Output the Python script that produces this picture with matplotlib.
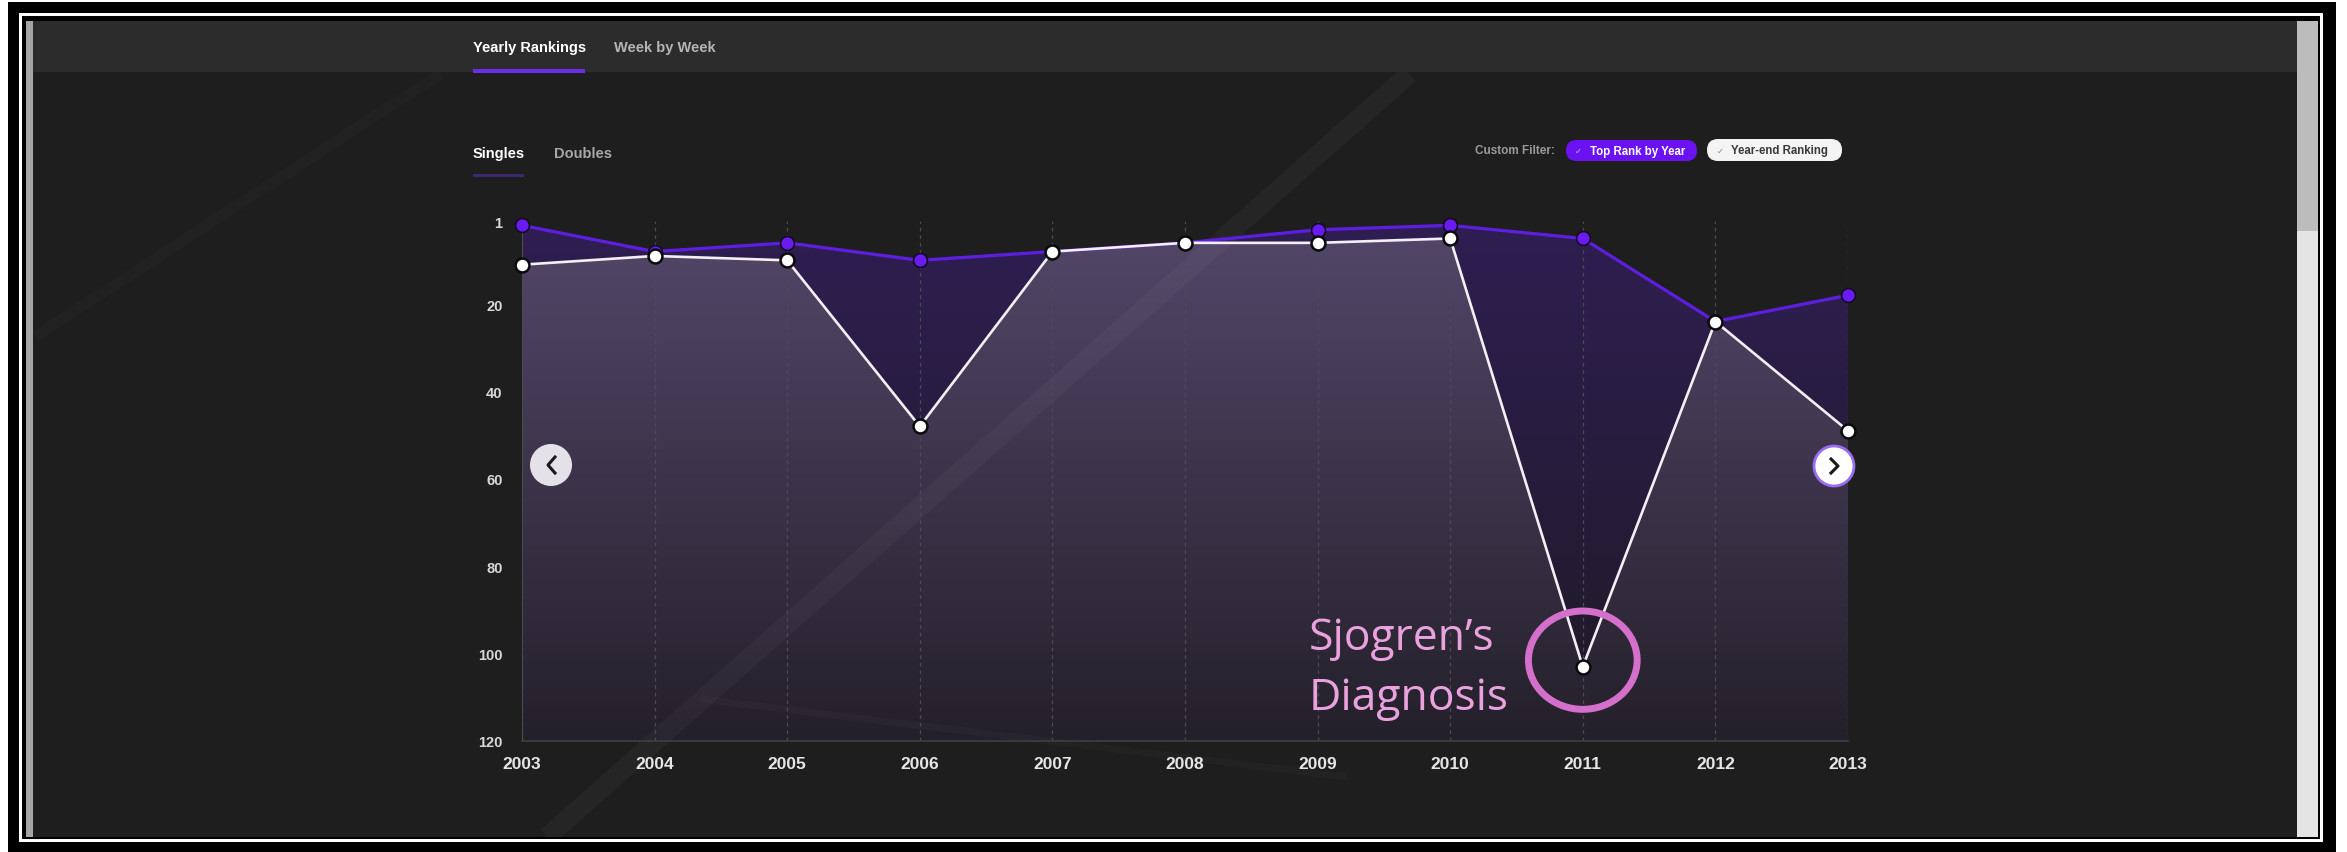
import numpy as np
import matplotlib.pyplot as plt
from matplotlib.patches import Rectangle, Circle, Ellipse, FancyBboxPatch
from matplotlib.colors import to_rgb

years = [2003, 2004, 2005, 2006, 2007, 2008, 2009, 2010, 2011, 2012, 2013]
top_rank = [2, 8, 6, 10, 8, 6, 3, 2, 5, 24, 18]
year_end = [11, 9, 10, 48, 8, 6, 6, 5, 103, 24, 49]
rank_ticks = [1, 20, 40, 60, 80, 100, 120]

W, H = 2347, 853
fig = plt.figure(figsize=(W / 100, H / 100), dpi=100)
fig.patch.set_facecolor('white')

# background layer in pixel coordinates (frame, page, tabs)
bg = fig.add_axes([0, 0, 1, 1])
bg.set_xlim(0, W)
bg.set_ylim(H, 0)
bg.axis('off')


def box(ax, x0, y0, x1, y1, c):
    ax.add_patch(Rectangle((x0, y0), x1 - x0, y1 - y0, facecolor=c, edgecolor='none'))


box(bg, 8, 3, 2336, 853, 'black')
box(bg, 19, 14, 2323, 843, 'white')
box(bg, 22, 17, 2320, 840, 'black')
box(bg, 26, 22, 2318, 838, '#1e1e1e')
box(bg, 26, 22, 33, 838, '#a5a5a5')
box(bg, 2297, 22, 2318, 232, '#bcbcbc')
box(bg, 2297, 232, 2318, 838, '#e4e4e4')
box(bg, 33, 22, 2297, 73, '#2c2c2c')

# faint streaks from the page background
streaks = [([1409, 547], [75, 838], 14, 0.03),
           ([36, 440], [337, 75], 8, 0.015),
           ([700, 1347], [700, 778], 5, 0.02)]
for sx, sy, slw, sa in streaks:
    ln, = bg.plot(sx, sy, color='white', alpha=sa, lw=slw, solid_capstyle='butt')
    ln.set_clip_path(Rectangle((33, 73), 2264, 765, transform=bg.transData))

# tabs
bg.text(473, 48, 'Yearly Rankings', color='white', fontsize=10.5, fontweight='bold',
        va='center', family='Liberation Sans')
bg.text(614, 48, 'Week by Week', color='#b5b5b5', fontsize=10.5, fontweight='bold',
        va='center', family='Liberation Sans')
box(bg, 473, 70, 585, 74, '#6b2ee6')
bg.text(473, 154, 'Singles', color='white', fontsize=10.5, fontweight='bold',
        va='center', family='Liberation Sans')
bg.text(554, 154, 'Doubles', color='#a8a8a8', fontsize=10.5, fontweight='bold',
        va='center', family='Liberation Sans')
box(bg, 473, 175, 524, 178, '#3e2775')

# custom filter pills
bg.text(1475, 151, 'Custom Filter:', color='#9a9a9a', fontsize=8.5, fontweight='bold',
        va='center', family='Liberation Sans')
bg.add_patch(FancyBboxPatch((1566, 141), 131, 21, boxstyle='round,pad=0,rounding_size=10.5',
                            facecolor='#6a12f2', edgecolor='none'))
bg.text(1575, 151.5, '✓', color='#c9b5f5', fontsize=6, va='center', family='DejaVu Sans')
bg.text(1590, 151.5, 'Top Rank by Year', color='white', fontsize=8.3, fontweight='bold',
        va='center', family='Liberation Sans')
bg.add_patch(FancyBboxPatch((1707, 140), 135, 22, boxstyle='round,pad=0,rounding_size=11',
                            facecolor='#f4f4f4', edgecolor='none'))
bg.text(1717, 151, '✓', color='#8a8a8a', fontsize=6, va='center', family='DejaVu Sans')
bg.text(1731, 151, 'Year-end Ranking', color='#3a3a3a', fontsize=8.3, fontweight='bold',
        va='center', family='Liberation Sans')

# main chart
ax = fig.add_axes([522 / W, 1 - 742 / H, (1848 - 522) / W, (742 - 222) / H])
ax.patch.set_alpha(0)


def gradient_fill(x, y, c_top, c_bot):
    poly = ax.fill_between(x, y, 120, facecolor='none', edgecolor='none')
    t = np.linspace(0, 1, 256)[:, None, None]
    img = np.array(to_rgb(c_top)) * (1 - t) + np.array(to_rgb(c_bot)) * t
    im = ax.imshow(img, extent=(2003, 2013, 120, 1), aspect='auto', origin='upper',
                   zorder=0.5, interpolation='bilinear')
    im.set_clip_path(poly.get_paths()[0], transform=ax.transData)
    return poly


purple_poly = gradient_fill(years, top_rank, '#2f1e52', '#1e1a24')
gradient_fill(years, year_end, '#54476a', '#24202a')

# streaks show through the filled area too
for sx, sy, slw, sa in (streaks[0], streaks[2]):
    band, = ax.plot(sx, sy, transform=bg.transData, color='white',
                    alpha=sa, lw=slw, solid_capstyle='butt', zorder=1)
    band.set_clip_path(purple_poly.get_paths()[0], transform=ax.transData)

ax.plot(years, top_rank, color='#5e1ee0', lw=2.3, zorder=3, marker='o', ms=10,
        mfc='#6a1cf0', mec='#140a24', mew=1.2, clip_on=False)
ax.plot(years, year_end, color='#f2eff5', lw=1.9, zorder=4, marker='o', ms=10,
        mfc='white', mec='#0a0a0a', mew=1.8, clip_on=False)

ax.set_xlim(2003, 2013)
ax.set_ylim(120, 1)
ax.set_xticks(years)
ax.set_xticklabels([str(y) for y in years], fontweight='bold', family='Liberation Sans')
ax.set_yticks(rank_ticks)
ax.set_yticklabels([str(r) for r in rank_ticks], fontweight='bold', family='Liberation Sans')
ax.tick_params(axis='y', length=0, pad=14, labelsize=10.5, labelcolor='#d8d8d8')
ax.tick_params(axis='x', length=0, pad=11, labelsize=12.5, labelcolor='#e6e6e6')
ax.set_axisbelow('line')
ax.grid(axis='x', color='#4e4a55', lw=0.9, ls=(0, (3, 3)))
ax.grid(axis='y', visible=False)
for s in ['top', 'right']:
    ax.spines[s].set_visible(False)
ax.spines['left'].set_color('#4a4a4a')
ax.spines['bottom'].set_color('#3f3f3f')
ax.spines['bottom'].set_linewidth(1.2)

# annotation
ax.add_patch(Ellipse((2011, 101.5), width=0.82, height=22.5, fill=False,
                     edgecolor='#d46fcb', lw=5, clip_on=False, zorder=6))
ax.text(2008.93, 103.3, 'Sjogren’s\nDiagnosis', ha='left', va='center', color='#e9a2de',
        fontsize=32, family='Open Sans', linespacing=1.45, multialignment='left', zorder=6)

# navigation buttons on top
ui = fig.add_axes([0, 0, 1, 1], zorder=10)
ui.set_xlim(0, W)
ui.set_ylim(H, 0)
ui.axis('off')
ui.patch.set_alpha(0)
ui.add_patch(Circle((551, 466), 21, facecolor='#e4e1e8', edgecolor='none'))
ui.plot([555, 548, 555], [458, 466, 474], color='#1a1a1a', lw=2.2)
ui.add_patch(Circle((1834, 467), 20, facecolor='white', edgecolor='#9a6cf2', lw=2))
ui.plot([1831, 1838, 1831], [460, 467, 474], color='#1a1a1a', lw=2.2)

fig.savefig('out.png', dpi=100)
